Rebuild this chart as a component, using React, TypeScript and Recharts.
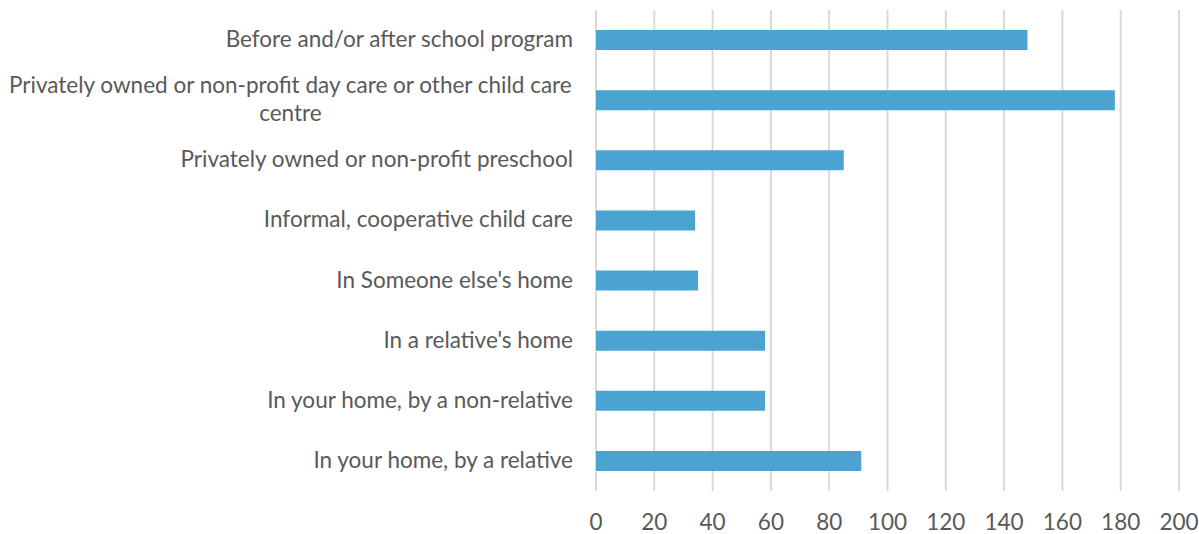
import { BarChart, Bar, XAxis, YAxis, CartesianGrid } from "recharts";

const categories = [
  "Before and/or after school program",
  "Privately owned or non-profit day care or other child care centre",
  "Privately owned or non-profit preschool",
  "Informal, cooperative child care",
  "In Someone else's home",
  "In a relative's home",
  "In your home, by a non-relative",
  "In your home, by a relative",
];

const counts = [148, 178, 85, 34, 35, 58, 58, 91];

const xTicks = [0, 20, 40, 60, 80, 100, 120, 140, 160, 180, 200];

const data = categories.map((name, i) => ({ name, value: counts[i] }));

const FONT = "Lato, 'Liberation Sans', Arial, sans-serif";
const TEXT_COLOR = "#595959";
const FONT_SIZE = 22.5;
const LABEL_WIDTH = 575;
const LINE_HEIGHT = 28;

let ctx: CanvasRenderingContext2D | null = null;
function measure(s: string) {
  if (!ctx) {
    ctx = document.createElement("canvas").getContext("2d");
  }
  if (!ctx) return s.length * FONT_SIZE * 0.48;
  ctx.font = `${FONT_SIZE}px ${FONT}`;
  return ctx.measureText(s).width;
}

// greedy word wrap so long labels break like the original
function wrap(label: string) {
  const words = label.split(" ");
  const lines: string[] = [];
  let cur = "";
  for (const w of words) {
    const next = cur ? cur + " " + w : w;
    if (cur && measure(next) > LABEL_WIDTH) {
      lines.push(cur);
      cur = w;
    } else {
      cur = next;
    }
  }
  if (cur) lines.push(cur);
  return lines;
}

function CategoryTick(props: any) {
  const { x, y, payload } = props;
  const lines = wrap(String(payload.value));
  const widest = Math.max(...lines.map(measure));
  const multi = lines.length > 1;
  const tx = multi ? x - widest / 2 : x;
  return (
    <text
      x={tx}
      y={y}
      textAnchor={multi ? "middle" : "end"}
      fill={TEXT_COLOR}
      fontSize={FONT_SIZE}
      fontFamily={FONT}
    >
      {lines.map((line, i) => (
        <tspan key={i} x={tx} y={y + 7 + (i - (lines.length - 1) / 2) * LINE_HEIGHT}>
          {line}
        </tspan>
      ))}
    </text>
  );
}

export default function App() {
  return (
    <div style={{ position: "absolute", left: 0, top: 0, background: "#fff" }}>
      <BarChart
        width={1199}
        height={534}
        data={data}
        layout="vertical"
        margin={{ top: 10, right: 20, bottom: 0, left: 0 }}
      >
        <CartesianGrid horizontal={false} stroke="#d9d9d9" strokeWidth={2} />
        <XAxis
          type="number"
          domain={[0, 200]}
          ticks={xTicks}
          axisLine={false}
          tickLine={false}
          tickSize={0}
          tickMargin={23}
          height={43}
          tick={{ fill: TEXT_COLOR, fontSize: FONT_SIZE, fontFamily: FONT }}
          interval={0}
        />
        <YAxis
          type="category"
          dataKey="name"
          width={596}
          axisLine={false}
          tickLine={false}
          tickSize={0}
          tickMargin={23}
          tick={<CategoryTick />}
          interval={0}
        />
        <Bar dataKey="value" fill="#4ba3d1" barSize={20} isAnimationActive={false} />
      </BarChart>
    </div>
  );
}
